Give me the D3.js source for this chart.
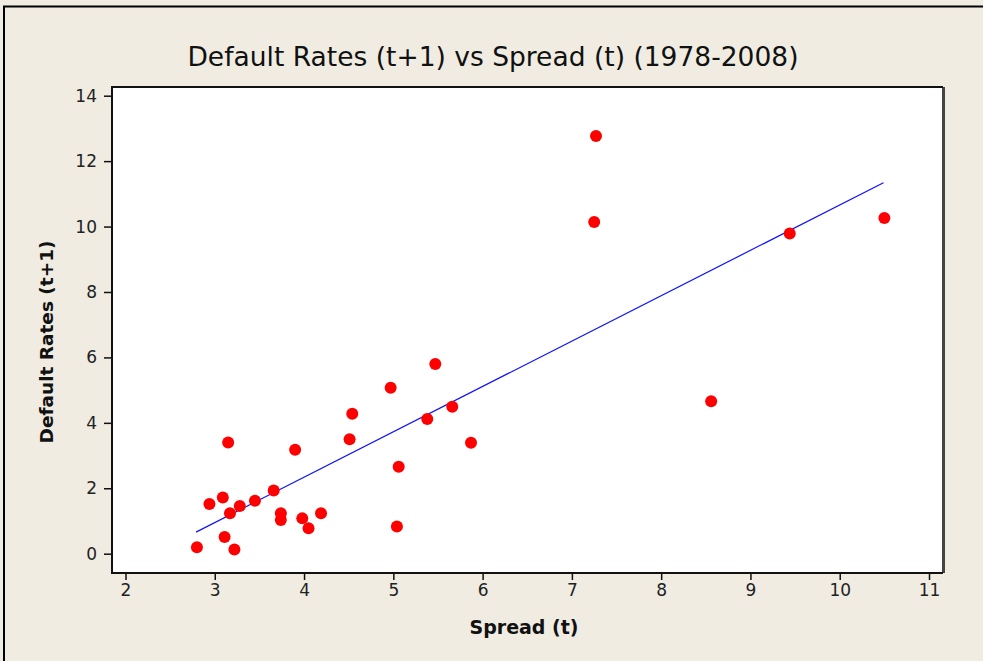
<!DOCTYPE html>
<html>
<head>
<meta charset="utf-8">
<script src="https://cdn.jsdelivr.net/npm/d3@7"></script>
<style>
  body { margin: 0; background: #f0ece2; }
  svg { display: block; }
  .tick text { font-family: "DejaVu Sans", sans-serif; font-size: 17px; fill: #222; }
</style>
</head>
<body>
<div id="chart"></div>
<script>
// data
var spread = [2.80, 2.94, 3.09, 3.11, 3.15, 3.17, 3.22, 3.28, 3.45, 3.66, 3.74, 3.74, 3.90, 3.98, 4.05, 4.19,
    4.51, 4.54, 4.97, 5.04, 5.06, 5.38, 5.47, 5.66, 5.87, 7.25, 7.27, 8.56, 9.44, 10.50];
var defaultRate = [0.20, 1.52, 1.72, 0.51, 3.40, 1.24, 0.13, 1.46, 1.62, 1.93, 1.24, 1.03, 3.18, 1.08, 0.78, 1.24,
    3.50, 4.28, 5.07, 0.83, 2.66, 4.12, 5.80, 4.49, 3.39, 10.14, 12.77, 4.66, 9.79, 10.26];
// fitted line end points
var fitX = [2.79, 10.49];
var fitY = [0.66, 11.34];
var xTicks = [2, 3, 4, 5, 6, 7, 8, 9, 10, 11];
var yTicks = [0, 2, 4, 6, 8, 10, 12, 14];

var W = 983, H = 661;
var box = {left: 112, top: 87, right: 943, bottom: 573};

var svg = d3.select("#chart").append("svg")
    .attr("width", W)
    .attr("height", H);

svg.append("rect")
    .attr("width", W).attr("height", H)
    .attr("fill", "#f0ece2");

// outer frame (top and left edges)
svg.append("path")
    .attr("d", "M4,661 V6.5 H983")
    .attr("fill", "none")
    .attr("stroke", "#000")
    .attr("stroke-width", 2);

var x = d3.scaleLinear().domain([2, 11]).range([125.5, 929]);
var y = d3.scaleLinear().domain([0, 14]).range([553.7, 95.7]);

// plot area
svg.append("rect")
    .attr("x", box.left).attr("y", box.top)
    .attr("width", box.right - box.left)
    .attr("height", box.bottom - box.top)
    .attr("fill", "#fff");

svg.append("line")
    .attr("x1", box.right + 0.5).attr("x2", box.right + 0.5)
    .attr("y1", box.top).attr("y2", box.bottom)
    .attr("stroke", "#444").attr("stroke-width", 3);

svg.append("path")
    .attr("d", "M" + box.right + "," + box.top + " H" + box.left + " V" + box.bottom + " H" + box.right)
    .attr("fill", "none")
    .attr("stroke", "#111")
    .attr("stroke-width", 2);

var xAxis = svg.append("g")
    .attr("transform", "translate(0," + (box.bottom + 1) + ")")
    .call(d3.axisBottom(x).tickValues(xTicks).tickSize(6).tickSizeOuter(0).tickPadding(4));
xAxis.select(".domain").remove();
xAxis.selectAll(".tick line").attr("stroke", "#111").attr("stroke-width", 1.5);

var yAxis = svg.append("g")
    .attr("transform", "translate(" + (box.left - 1) + ",0)")
    .call(d3.axisLeft(y).tickValues(yTicks).tickSize(7).tickSizeOuter(0).tickPadding(7));
yAxis.select(".domain").remove();
yAxis.selectAll(".tick line").attr("stroke", "#111").attr("stroke-width", 1.5);

// fitted line
var fit = fitX.map(function(d, i) { return [d, fitY[i]]; });
svg.append("path")
    .datum(fit)
    .attr("d", d3.line()
        .x(function(d) { return x(d[0]); })
        .y(function(d) { return y(d[1]); }))
    .attr("fill", "none")
    .attr("stroke", "#1010ff")
    .attr("stroke-width", 1.2);

// points
var points = spread.map(function(d, i) { return {x: d, y: defaultRate[i]}; });
svg.selectAll(".pt")
    .data(points)
    .enter()
    .append("circle")
    .attr("class", "pt")
    .attr("cx", function(d) { return x(d.x); })
    .attr("cy", function(d) { return y(d.y); })
    .attr("r", 6)
    .attr("fill", "#ff0000");

// texts
svg.append("text")
    .attr("x", 493).attr("y", 66)
    .attr("text-anchor", "middle")
    .style("font-family", "'DejaVu Sans', sans-serif")
    .style("font-size", "26.5px")
    .style("fill", "#111")
    .text("Default Rates (t+1) vs Spread (t) (1978-2008)");

svg.append("text")
    .attr("x", 524).attr("y", 634)
    .attr("text-anchor", "middle")
    .style("font-family", "'DejaVu Sans', sans-serif")
    .style("font-size", "19px")
    .style("font-weight", "bold")
    .style("fill", "#111")
    .text("Spread (t)");

svg.append("text")
    .attr("transform", "translate(53,342) rotate(-90)")
    .attr("text-anchor", "middle")
    .style("font-family", "'DejaVu Sans', sans-serif")
    .style("font-size", "18.5px")
    .style("font-weight", "bold")
    .style("fill", "#111")
    .text("Default Rates (t+1)");
</script>
</body>
</html>
